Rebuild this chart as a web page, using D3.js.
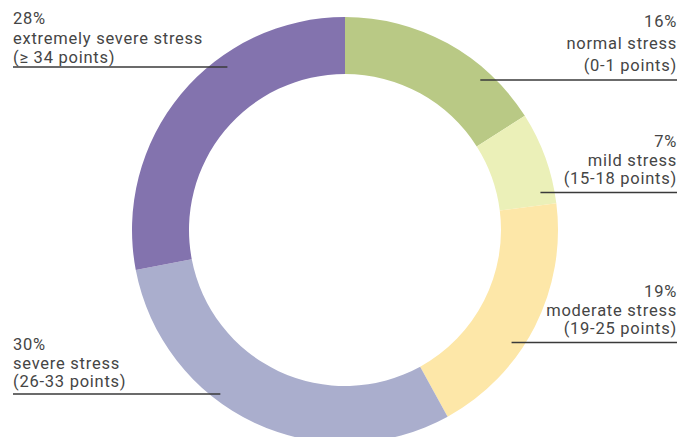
<!DOCTYPE html>
<html>
<head>
<meta charset="utf-8">
<script src="https://cdn.jsdelivr.net/npm/d3@7"></script>
<style>
  body { margin: 0; background: #fff; }
  text { font-family: Roboto, "Open Sans", sans-serif; fill: #454545; letter-spacing: 0.75px; }
</style>
</head>
<body>
<div id="chart"></div>
<script>

// data
var categories = ["normal stress", "mild stress", "moderate stress", "severe stress", "extremely severe stress"];
var ranges = ["(0-1 points)", "(15-18 points)", "(19-25 points)", "(26-33 points)", "(\u2265 34 points)"];
var shares = [16, 7, 19, 30, 28];
var colors = ["#b9c985", "#ebf0b8", "#fde7a8", "#aaaecd", "#8373ae"];

// label layout (baseline of first line, line gap, leader y, leader end radius, side)
var labelLayout = [
  { side: "right", y: 27, gap: 22, lineY: 80, r: 202 },
  { side: "right", y: 147, gap: 18.5, lineY: 192.5, r: 199 },
  { side: "right", y: 297, gap: 18.5, lineY: 342.5, r: 201 },
  { side: "left",  y: 350, gap: 18.5, lineY: 394, r: 206 },
  { side: "left",  y: 24, gap: 19.5, lineY: 67, r: 201 }
];

var width = 693, height = 437;
var cx = 345, cy = 230;
var outerR = 213, innerR = 156;
var textLeft = 13, textRight = 677;

var svg = d3.select("#chart").append("svg")
    .attr("width", width)
    .attr("height", height);

var g = svg.append("g")
    .attr("transform", "translate(" + cx + "," + cy + ")");

var pie = d3.pie().sort(null).value(function(d) { return d; });
var arc = d3.arc().innerRadius(innerR).outerRadius(outerR);

g.selectAll(".slice")
    .data(pie(shares))
  .enter().append("path")
    .attr("class", "slice")
    .attr("d", arc)
    .attr("fill", function(d, i) { return colors[i]; });

// labels + leader lines
labelLayout.forEach(function(l, i) {
  var dy = l.lineY - cy;
  var dx = Math.sqrt(l.r * l.r - dy * dy);
  var right = l.side === "right";
  var innerX = right ? cx + dx : cx - dx;

  svg.append("line")
      .attr("x1", right ? innerX : textLeft)
      .attr("x2", right ? textRight : innerX)
      .attr("y1", l.lineY)
      .attr("y2", l.lineY)
      .attr("stroke", "#3a3a3a")
      .attr("stroke-width", 1.3);

  var lines = [shares[i] + "%", categories[i], ranges[i]];
  var t = svg.append("text")
      .attr("text-anchor", right ? "end" : "start")
      .attr("font-size", 16.5);
  lines.forEach(function(s, j) {
    t.append("tspan")
        .attr("x", right ? textRight : textLeft)
        .attr("y", l.y + j * l.gap)
        .text(s);
  });
});

</script>
</body>
</html>
